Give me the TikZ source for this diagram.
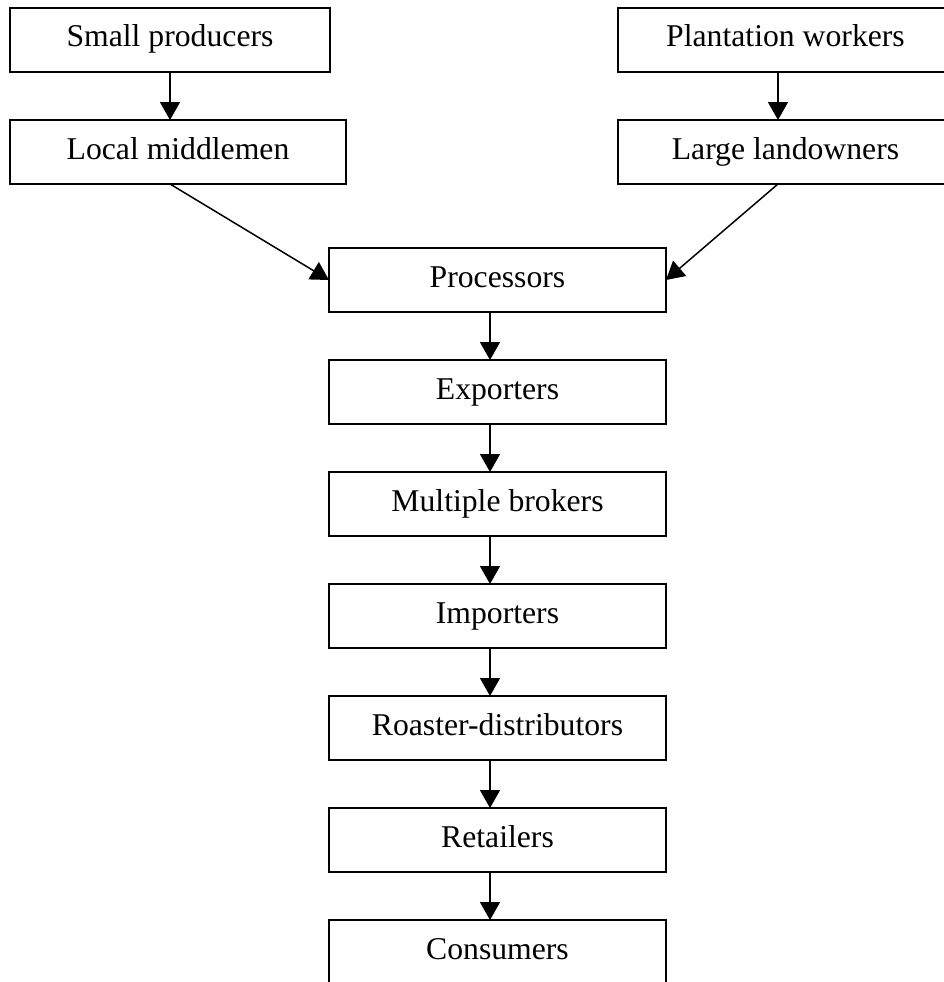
\documentclass[tikz,border=0pt]{standalone}
\usepackage{fontspec}
\setmainfont{Liberation Serif}
\usetikzlibrary{arrows.meta,positioning,calc}
\tikzset{chainbox/.style={draw=black,line width=1.5pt,inner sep=0pt,outer sep=0pt,minimum height=64pt,
 text height=22pt,text depth=8pt,font=\fontsize{31.7}{38}\selectfont},
 chainarrow/.style={-{Triangle[length=18pt,width=20pt]},draw=black,line width=1.5pt}}

\begin{document}
\begin{tikzpicture}[x=1pt,y=1pt,node distance=48pt]
\useasboundingbox (0,0) rectangle (944,-982);
\node[chainbox,minimum width=320pt,anchor=north west] (small) at (10,-8) {Small producers};
\node[chainbox,minimum width=336pt,below=of small.south west,anchor=north west] (middlemen) {Local middlemen};
\node[chainbox,minimum width=335pt,anchor=north west] (plantation) at (618,-8) {Plantation workers};
\node[chainbox,minimum width=335pt,below=of plantation.south west,anchor=north west] (landowners) {Large landowners};
\node[chainbox,minimum width=337pt,anchor=north west] (processors) at (329,-248) {Processors};
\node[chainbox,minimum width=337pt,below=of processors] (exporters) {Exporters};
\node[chainbox,minimum width=337pt,below=of exporters] (brokers) {Multiple brokers};
\node[chainbox,minimum width=337pt,below=of brokers] (importers) {Importers};
\node[chainbox,minimum width=337pt,below=of importers] (roasters) {Roaster-distributors};
\node[chainbox,minimum width=337pt,below=of roasters] (retailers) {Retailers};
\node[chainbox,minimum width=337pt,below=of retailers] (consumers) {Consumers};
\coordinate (spine) at (490,0);
\coordinate (rightspine) at (778,0);
\draw[chainarrow] (small.south)--(small.south |- middlemen.north);
\draw[chainarrow] (plantation.south -| rightspine)--(landowners.north -| rightspine);
\draw[chainarrow] (middlemen.south -| small.south)--(processors.west);
\draw[chainarrow] (landowners.south -| rightspine)--(processors.east);
\draw[chainarrow] (processors.south -| spine)--(exporters.north -| spine);
\draw[chainarrow] (exporters.south -| spine)--(brokers.north -| spine);
\draw[chainarrow] (brokers.south -| spine)--(importers.north -| spine);
\draw[chainarrow] (importers.south -| spine)--(roasters.north -| spine);
\draw[chainarrow] (roasters.south -| spine)--(retailers.north -| spine);
\draw[chainarrow] (retailers.south -| spine)--(consumers.north -| spine);
\end{tikzpicture}
\end{document}
